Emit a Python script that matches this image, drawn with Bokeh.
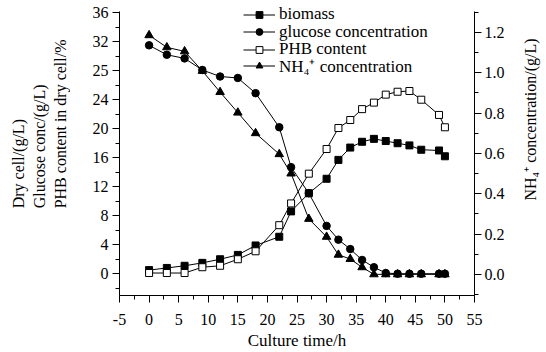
import math
from bokeh.plotting import figure
from bokeh.layouts import row
from bokeh.models import (Range1d, LinearAxis, SingleIntervalTicker, Legend, LegendItem,
                          PrintfTickFormatter, Label)
from bokeh.embed import file_html
from bokeh.resources import INLINE

# ---- data ----
time_h = [0, 3, 6, 9, 12, 15, 18, 22, 24, 27, 30, 32, 34, 36, 38, 40, 42, 44, 46, 49, 50]
biomass = [0.5, 0.8, 1.1, 1.5, 2.0, 2.6, 3.9, 5.1, 8.6, 11.1, 13.1, 15.7, 17.4, 18.2,
           18.6, 18.3, 18.0, 17.7, 17.1, 17.0, 16.2]
glucose = [31.5, 30.2, 29.7, 28.1, 27.2, 27.0, 24.9, 20.2, 14.7, 11.1, 6.6, 4.7, 3.4, 1.9,
           0.9, 0.1, 0.0, 0.0, 0.0, 0.0, 0.0]
phb = [0.1, 0.1, 0.1, 0.9, 1.1, 2.0, 3.1, 6.7, 9.7, 13.8, 17.2, 20.1, 21.2, 22.7,
       23.6, 24.7, 25.1, 25.2, 24.0, 21.9, 20.2]
nh4 = [1.186, 1.126, 1.106, 1.009, 0.904, 0.802, 0.70, 0.596, 0.50, 0.275, 0.186, 0.097,
       0.076, 0.035, 0.0, 0.0, 0.0, 0.0, 0.0, 0.0, 0.0]

series_names = ["biomass", "glucose concentration", "PHB content", "NH\u2084\u207a concentration"]
left_tick_overrides = {28: "25"}
x_tick_overrides = {-5: "-5"}
x_title = "Culture time/h"
left_titles = ["Dry cell/(g/L)", "Glucose conc/(g/L)", "PHB content in dry cell/%"]
right_title = "NH\u2084\u207a concentration/(g/L)"

FONT = "Liberation Serif"
H = 352
LEFT_W, RIGHT_W = 70, 30
MAIN_W = 546 - LEFT_W - RIGHT_W


def text_strip(width):
    f = figure(width=width, height=H, output_backend="svg", toolbar_location=None,
               x_range=Range1d(0, width), y_range=Range1d(H, 0),
               x_axis_location=None, y_axis_location=None,
               min_border_left=0, min_border_right=0, min_border_top=0, min_border_bottom=0)
    f.outline_line_color = None
    f.background_fill_color = "white"
    f.border_fill_color = "white"
    for g in f.grid:
        g.visible = False
    return f


# ---- left strip: three-line title (reads bottom to top) ----
left = text_strip(LEFT_W)
for i, txt in enumerate(left_titles):
    left.add_layout(Label(x=18 + 21 * i, y=248, text=txt, angle=math.pi / 2,
                          text_align="left", text_baseline="middle", text_font=FONT,
                          text_font_size="16px", text_color="black"))

# ---- right strip: NH4+ title ----
right = text_strip(RIGHT_W)
right.add_layout(Label(x=14, y=142, text=right_title, angle=math.pi / 2,
                       text_align="center", text_baseline="middle", text_font=FONT,
                       text_font_size="16px", text_color="black"))

# ---- main chart ----
Y_LEFT = (-3, 36.2)
Y_RIGHT = (-0.105, 1.305)
px_per_left = 291 / (Y_LEFT[1] - Y_LEFT[0])
px_per_right = 291 / (Y_RIGHT[1] - Y_RIGHT[0])
p = figure(width=MAIN_W, height=H, output_backend="svg", toolbar_location=None,
           x_range=Range1d(-5, 55),
           y_range=Range1d(Y_LEFT[0], Y_LEFT[1] + 11 / px_per_left),
           min_border_left=119 - LEFT_W, min_border_right=546 - RIGHT_W - 474,
           min_border_top=0, min_border_bottom=50)
p.extra_y_ranges = {"nh4": Range1d(Y_RIGHT[0], Y_RIGHT[1] + 11 / px_per_right)}
p.outline_line_color = None
p.xgrid.visible = False
p.ygrid.visible = False
p.background_fill_color = "white"
p.border_fill_color = "white"


def style_axis(ax, size="16px"):
    ax.axis_line_color = "black"
    ax.axis_line_width = 1
    ax.major_tick_line_color = "black"
    ax.minor_tick_line_color = "black"
    ax.major_tick_in = 0
    ax.major_tick_out = 7
    ax.minor_tick_in = 0
    ax.minor_tick_out = 4
    ax.major_label_text_font = FONT
    ax.major_label_text_font_size = size
    ax.major_label_text_color = "black"
    ax.axis_label_text_font = FONT
    ax.axis_label_text_font_size = "17px"
    ax.axis_label_text_font_style = "normal"
    ax.axis_label_text_color = "black"


xa = p.xaxis[0]
xa.ticker = SingleIntervalTicker(interval=5, num_minor_ticks=2)
style_axis(xa)
xa.major_label_standoff = 11
xa.major_label_overrides = x_tick_overrides
xa.axis_label = x_title
xa.axis_label_standoff = 3

ya = p.yaxis[0]
ya.ticker = SingleIntervalTicker(interval=4, num_minor_ticks=2)
style_axis(ya)
ya.bounds = Y_LEFT
ya.major_label_standoff = 4
ya.major_label_overrides = left_tick_overrides

ra = LinearAxis(y_range_name="nh4")
ra.ticker = SingleIntervalTicker(interval=0.2, num_minor_ticks=2)
ra.formatter = PrintfTickFormatter(format="%.1f")
style_axis(ra)
ra.bounds = Y_RIGHT
ra.major_label_standoff = 3
p.add_layout(ra, "right")

# ---- series ----
l1 = p.line(time_h, biomass, line_color="black", line_width=1)
s1 = p.scatter(time_h, biomass, marker="square", size=7, fill_color="black", line_color="black")
l2 = p.line(time_h, glucose, line_color="black", line_width=1)
s2 = p.scatter(time_h, glucose, marker="circle", size=7.5, fill_color="black", line_color="black")
l3 = p.line(time_h, phb, line_color="black", line_width=1)
s3 = p.scatter(time_h, phb, marker="square", size=7, fill_color="white", line_color="black")
l4 = p.line(time_h, nh4, line_color="black", line_width=1, y_range_name="nh4")
s4 = p.scatter(time_h, nh4, marker="triangle", size=8.5, fill_color="black", line_color="black",
               y_range_name="nh4")

# one single-row legend per series so the row spacing can follow the reference
row_renderers = [[l1, s1], [l2, s2], [l3, s3], [l4, s4]]
row_y = [271, 253.5, 236, 218.5]
for name, rends, yy in zip(series_names, row_renderers, row_y):
    lg = Legend(items=[LegendItem(label=name, renderers=rends)], location=(124, yy))
    lg.border_line_color = None
    lg.background_fill_alpha = 0
    lg.padding = 0
    lg.margin = 0
    lg.spacing = 0
    lg.glyph_width = 32
    lg.glyph_height = 17
    lg.label_height = 17
    lg.label_standoff = 4
    lg.label_text_font = FONT
    lg.label_text_font_size = "17px"
    lg.label_text_color = "black"
    lg.label_text_baseline = "middle"
    p.add_layout(lg, "center")

layout = row(left, p, right)
open("out.html", "w").write(file_html(layout, INLINE))
